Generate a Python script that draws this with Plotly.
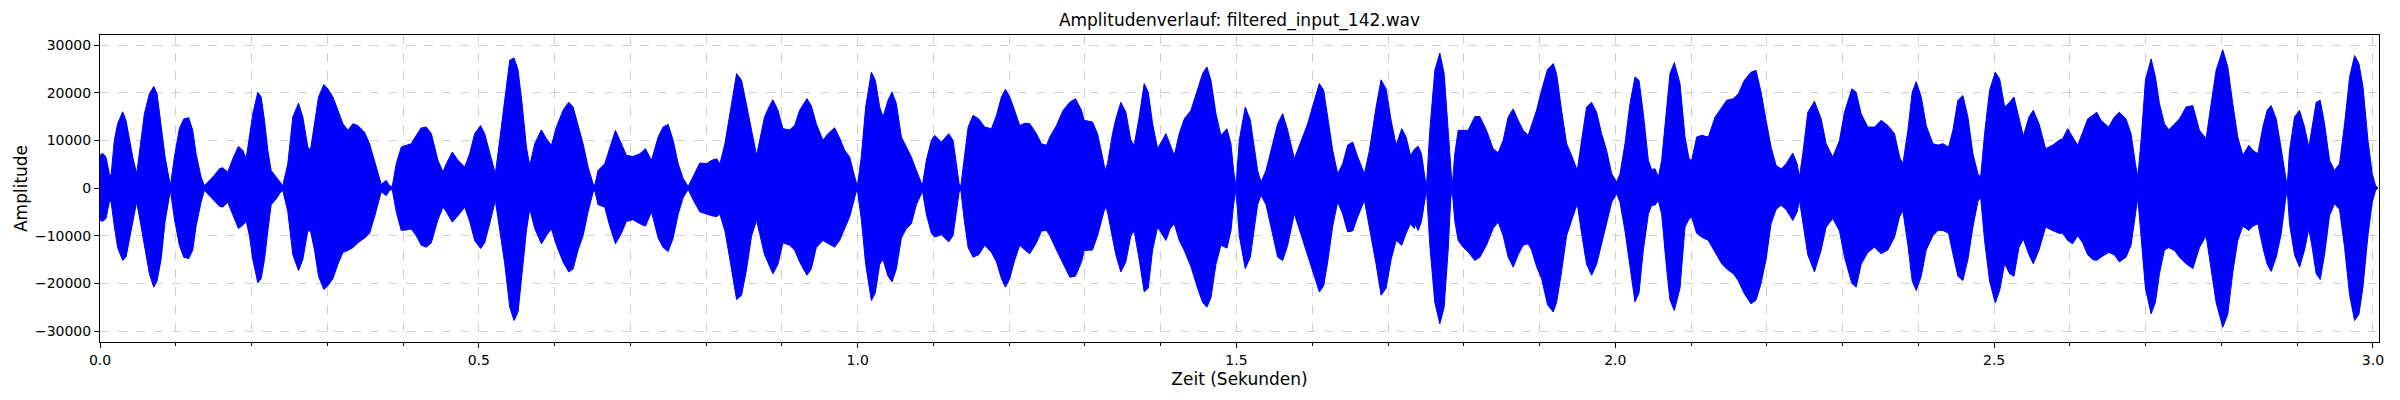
import plotly.graph_objects as go

# Envelope of the waveform
# time in seconds, upper and lower amplitude at that time
time_s = [
    # 0.0 - 0.44 s
    0.0000, 0.0035, 0.0079, 0.0123, 0.0145, 0.0189, 0.0233, 0.0299, 0.0343, 0.0387,
    0.0432, 0.0484, 0.0542, 0.0586, 0.0652, 0.0709, 0.0753, 0.0806, 0.0859, 0.0929,
    0.0982, 0.1048, 0.1105, 0.1171, 0.1224, 0.1268, 0.1334, 0.1378, 0.1444, 0.1510,
    0.1576, 0.1620, 0.1686, 0.1753, 0.1827, 0.1885, 0.1929, 0.1973, 0.2017, 0.2083,
    0.2127, 0.2171, 0.2215, 0.2259, 0.2325, 0.2369, 0.2413, 0.2479, 0.2545, 0.2620,
    0.2677, 0.2743, 0.2778, 0.2831, 0.2884, 0.2955, 0.3008, 0.3074, 0.3140, 0.3206,
    0.3272, 0.3338, 0.3404, 0.3492, 0.3558, 0.3624, 0.3668, 0.3712, 0.3778, 0.3822,
    0.3857, 0.3910, 0.3976, 0.4042, 0.4108, 0.4174, 0.4240, 0.4306, 0.4373,
    # 0.44 - 0.87 s
    0.4395, 0.4460, 0.4527, 0.4571, 0.4650, 0.4725, 0.4813, 0.4879, 0.4945, 0.5024,
    0.5077, 0.5143, 0.5218, 0.5275, 0.5342, 0.5408, 0.5465, 0.5518, 0.5571, 0.5628,
    0.5672, 0.5738, 0.5826, 0.5892, 0.5958, 0.6024, 0.6112, 0.6187, 0.6244, 0.6310,
    0.6376, 0.6442, 0.6508, 0.6530, 0.6574, 0.6662, 0.6728, 0.6803, 0.6882, 0.6948,
    0.7036, 0.7125, 0.7199, 0.7279, 0.7367, 0.7433, 0.7499, 0.7565, 0.7631, 0.7697,
    0.7763, 0.7829, 0.7917, 0.8005, 0.8072, 0.8138, 0.8182, 0.8248, 0.8314, 0.8402,
    0.8468, 0.8534, 0.8600, 0.8666,
    # 0.87 - 1.30 s
    0.8705, 0.8771, 0.8838, 0.8882, 0.8948, 0.9014, 0.9102, 0.9168, 0.9234, 0.9331,
    0.9388, 0.9454, 0.9542, 0.9608, 0.9696, 0.9762, 0.9829, 0.9895, 0.9939, 0.9974,
    0.9996, 1.0048, 1.0106, 1.0181, 1.0233, 1.0291, 1.0335, 1.0401, 1.0454, 1.0511,
    1.0577, 1.0643, 1.0709, 1.0775, 1.0841, 1.0854, 1.0907, 1.0973, 1.1017, 1.1105,
    1.1202, 1.1259, 1.1303, 1.1339, 1.1361, 1.1405, 1.1458, 1.1524, 1.1598, 1.1678,
    1.1766, 1.1832, 1.1898, 1.1951, 1.2008, 1.2065, 1.2140, 1.2206, 1.2272, 1.2360,
    1.2426, 1.2492, 1.2536, 1.2624, 1.2712, 1.2800, 1.2875, 1.2955,
    # 1.30 - 1.74 s
    1.2990, 1.3100, 1.3166, 1.3232, 1.3267, 1.3298, 1.3364, 1.3408, 1.3474, 1.3540,
    1.3606, 1.3650, 1.3716, 1.3782, 1.3835, 1.3893, 1.3959, 1.4069, 1.4126, 1.4179,
    1.4245, 1.4311, 1.4399, 1.4487, 1.4553, 1.4610, 1.4663, 1.4729, 1.4795, 1.4874,
    1.4927, 1.4962, 1.4993, 1.5037, 1.5116, 1.5183, 1.5235, 1.5279, 1.5324, 1.5390,
    1.5478, 1.5544, 1.5610, 1.5676, 1.5764, 1.5852, 1.5940, 1.6028, 1.6094, 1.6151,
    1.6204, 1.6270, 1.6336, 1.6402, 1.6468, 1.6534, 1.6601, 1.6689, 1.6755, 1.6843,
    1.6909, 1.6975, 1.7041, 1.7107, 1.7182, 1.7239, 1.7296, 1.7349,
    # 1.74 - 2.17 s
    1.7354, 1.7398, 1.7442, 1.7486, 1.7508, 1.7552, 1.7618, 1.7684, 1.7741, 1.7794,
    1.7829, 1.7847, 1.7882, 1.7926, 1.7992, 1.8058, 1.8146, 1.8212, 1.8300, 1.8388,
    1.8454, 1.8520, 1.8586, 1.8652, 1.8718, 1.8784, 1.8850, 1.8895, 1.8961, 1.9027,
    1.9106, 1.9181, 1.9225, 1.9291, 1.9357, 1.9423, 1.9498, 1.9555, 1.9621, 1.9687,
    1.9753, 1.9819, 1.9885, 1.9952, 2.0018, 2.0062, 2.0128, 2.0194, 2.0260, 2.0313,
    2.0370, 2.0436, 2.0480, 2.0524, 2.0568, 2.0612, 2.0678, 2.0722, 2.0779, 2.0854,
    2.0920, 2.0973, 2.1008, 2.1074, 2.1140, 2.1228, 2.1317, 2.1405, 2.1471, 2.1559,
    2.1625,
    # 2.17 - 2.59 s
    2.1704, 2.1792, 2.1858, 2.1924, 2.1990, 2.2056, 2.2122, 2.2189, 2.2255, 2.2343,
    2.2400, 2.2431, 2.2475, 2.2541, 2.2629, 2.2717, 2.2783, 2.2871, 2.2959, 2.3025,
    2.3122, 2.3179, 2.3245, 2.3333, 2.3421, 2.3510, 2.3598, 2.3686, 2.3752, 2.3796,
    2.3862, 2.3919, 2.3972, 2.4038, 2.4104, 2.4192, 2.4258, 2.4324, 2.4399, 2.4456,
    2.4522, 2.4588, 2.4654, 2.4720, 2.4786, 2.4822, 2.4874, 2.4940, 2.5015, 2.5073,
    2.5139, 2.5205, 2.5262, 2.5328, 2.5385, 2.5460, 2.5517, 2.5592, 2.5680, 2.5768,
    2.5856,
    # 2.59 - 3.01 s
    2.5905, 2.5971, 2.6037, 2.6103, 2.6169, 2.6235, 2.6301, 2.6354, 2.6411, 2.6512,
    2.6587, 2.6653, 2.6741, 2.6807, 2.6865, 2.6896, 2.6940, 2.6997, 2.7072, 2.7129,
    2.7182, 2.7248, 2.7305, 2.7380, 2.7446, 2.7534, 2.7622, 2.7710, 2.7798, 2.7864,
    2.7930, 2.8018, 2.8084, 2.8150, 2.8216, 2.8283, 2.8362, 2.8415, 2.8481, 2.8547,
    2.8604, 2.8657, 2.8723, 2.8789, 2.8846, 2.8868, 2.8899, 2.8965, 2.9031, 2.9097,
    2.9154, 2.9198, 2.9251, 2.9304, 2.9361, 2.9427, 2.9493, 2.9559, 2.9626, 2.9692,
    2.9758, 2.9815, 2.9868, 2.9934, 2.9991, 3.0035, 3.0066,
]

upper = [
    6850, 7300, 6500, 3000, 2500, 10000, 13500, 16000, 14200, 10000,
    6500, 3000, 10700, 15600, 19800, 21300, 19800, 13500, 6500, 500,
    6500, 12500, 14500, 14750, 12100, 7200, 2300, 500, 1600, 2700,
    4050, 4270, 3350, 6150, 8750, 7900, 6150, 10700, 15600, 20100,
    19100, 14200, 7900, 3700, 2300, 1250, 500, 5100, 14900, 17800,
    14900, 8600, 8000, 13500, 19100, 21700, 20800, 19100, 16300, 13500,
    12100, 13500, 13100, 11700, 9300, 5800, 3000, 770, 1600, 500,
    300, 5100, 8600, 9000, 9300, 11050, 12600, 12800, 11400,

    10000, 5800, 3400, 5100, 7550, 5800, 4400, 7200, 11400, 13100,
    11400, 7200, 3000, 10000, 19100, 26800, 27300, 24700, 17700, 8600,
    4750, 9300, 12200, 10350, 8950, 12800, 16300, 18000, 17000, 13100,
    9300, 4400, 900, 560, 3700, 5100, 8600, 12100, 9300, 6850,
    6600, 7200, 8250, 5800, 10700, 12800, 13350, 10000, 5100, 2000,
    300, 2300, 5250, 5100, 5800, 6150, 5100, 9300, 15600, 24000,
    22600, 17700, 12100, 6850,

    10000, 14900, 17300, 18500, 16300, 12450, 12200, 13100, 16300, 18750,
    17300, 13500, 10000, 11400, 12650, 10500, 7900, 6500, 3700, 1250,
    300, 6500, 17000, 24300, 22600, 17000, 14900, 18400, 20150, 17700,
    10700, 8600, 6500, 3700, 1250, 500, 5800, 10000, 11050, 9650,
    11400, 10000, 5100, 900, 300, 6500, 12800, 15250, 14500, 12800,
    12450, 15250, 19100, 20700, 19100, 16600, 13100, 13600, 13500, 11400,
    9300, 8950, 10700, 13100, 16300, 18000, 18750, 16300,

    14200, 13850, 11400, 6500, 3700, 5100, 11400, 14500, 18000, 15900,
    10000, 9000, 14900, 21900, 20150, 13500, 8250, 11400, 9000, 6850,
    11400, 14500, 16300, 20800, 24000, 25400, 22600, 15600, 11050, 12450,
    9300, 3700, 300, 10000, 17000, 14200, 8600, 3700, 1250, 3700,
    9300, 13500, 15600, 12100, 6150, 10000, 13500, 18400, 21900, 20500,
    14900, 7900, 3000, 5100, 9000, 9650, 6500, 3000, 7900, 17000,
    22700, 20800, 14200, 9000, 12450, 10700, 6850, 8250,

    8250, 8750, 7200, 2300, 300, 12100, 24700, 28300, 24000, 12100,
    3700, 300, 7200, 12100, 12100, 12100, 15000, 15000, 12100, 8250,
    7400, 10000, 14900, 16600, 14200, 12100, 11050, 13100, 16300, 20500,
    24900, 26100, 24000, 16300, 9300, 6850, 3700, 10000, 17000, 18000,
    15900, 11400, 7900, 3000, 1250, 3000, 9300, 17700, 23300, 22600,
    15600, 5800, 3850, 4050, 2300, 5800, 17700, 24000, 26300, 21900,
    10700, 6150, 5800, 10700, 11050, 10700, 14900, 17000, 18400, 18750,
    19800,

    22600, 24300, 24700, 20100, 14200, 8600, 4750, 4050, 5100, 7350,
    5100, 2300, 7200, 15900, 18200, 14500, 9300, 6500, 10000, 15900,
    20800, 20100, 15600, 12800, 12800, 14200, 13100, 11400, 6500, 5100,
    12100, 20100, 22300, 19100, 13100, 9300, 9000, 9300, 8600, 12100,
    18400, 19400, 14900, 7200, 3000, 2300, 11400, 20500, 24300, 22900,
    17000, 18000, 19100, 14900, 10900, 14900, 16300, 13500, 8250, 8950,
    10000,

    10350, 12450, 10700, 8950, 11700, 14500, 15250, 15900, 14200, 12800,
    14900, 15900, 14500, 11400, 5100, 2300, 10000, 22600, 27100, 23300,
    17700, 13500, 12200, 13500, 14500, 17000, 17300, 12100, 10350, 17700,
    24700, 29000, 25400, 17700, 10700, 6850, 8950, 7900, 7200, 12800,
    16300, 17300, 14500, 8250, 2300, 300, 7900, 14900, 16300, 12800,
    8600, 12800, 18000, 18400, 13500, 5800, 3700, 5100, 13500, 23300,
    27800, 26100, 21300, 10000, 3000, 500, 0,
]

lower = [
    -6800, -7000, -6400, -2900, -2800, -8000, -12500, -15200, -14500, -11000,
    -7500, -2900, -8000, -12500, -18000, -20800, -19500, -15000, -7000, -500,
    -6500, -12000, -14500, -14800, -13000, -8000, -3000, -500, -1500, -2700,
    -3800, -4000, -3000, -5500, -8500, -7800, -7000, -10000, -15000, -19900,
    -19000, -15000, -9000, -3500, -2300, -1200, -500, -5000, -14000, -17300,
    -15000, -9000, -9000, -13000, -18500, -21300, -20500, -19000, -16000, -13500,
    -13100, -12500, -11500, -10500, -9500, -6000, -3500, -800, -1600, -500,
    -300, -5000, -8900, -8800, -8600, -10000, -12000, -12400, -11500,

    -10000, -6650, -4000, -5000, -7150, -5800, -4000, -7000, -11000, -12700,
    -11500, -7500, -2600, -9000, -15900, -25000, -27800, -26000, -18000, -9000,
    -4350, -8500, -11700, -10000, -8550, -12000, -15500, -17600, -17000, -13000,
    -10000, -5000, -900, -500, -3500, -4000, -8000, -11700, -9500, -7000,
    -6650, -7500, -8000, -5000, -10500, -12500, -13300, -10500, -5500, -2000,
    -300, -2500, -5000, -5500, -5800, -6000, -5500, -9000, -15000, -23400,
    -22500, -17000, -10000, -6800,

    -9500, -14000, -16500, -18000, -16000, -11500, -12000, -13000, -15500, -18300,
    -17000, -12500, -11000, -11500, -12400, -11000, -8500, -6000, -3400, -1200,
    -300, -6500, -16000, -23600, -22000, -16000, -15000, -18500, -19700, -17000,
    -10500, -8500, -7500, -3500, -1200, -500, -5500, -9500, -10300, -9800,
    -11300, -10000, -5000, -900, -300, -6500, -12500, -14500, -14000, -12000,
    -13500, -15500, -19000, -20800, -19000, -15500, -12000, -13000, -13800, -11500,
    -9000, -8900, -10000, -13000, -16000, -18700, -18500, -15500,

    -13100, -13000, -10000, -6000, -4000, -5000, -10500, -14000, -17600, -15500,
    -10000, -9000, -15000, -21800, -21000, -13000, -8200, -11000, -8500, -7500,
    -11000, -13100, -16500, -21000, -24000, -25000, -23000, -16000, -12000, -12600,
    -9000, -3500, -300, -10000, -16900, -14500, -8500, -3500, -1500, -3500,
    -9500, -14500, -15200, -12000, -5400, -10000, -14000, -18500, -21800, -20500,
    -15500, -8000, -2900, -5500, -9200, -9000, -6000, -2600, -8000, -16000,
    -22500, -21000, -15000, -11000, -12000, -9500, -7500, -8500,

    -7500, -8900, -7000, -2600, -300, -12000, -24000, -28500, -25000, -13000,
    -2000, -300, -7000, -11000, -12400, -13400, -15200, -14500, -12000, -8500,
    -7150, -10000, -14500, -16600, -14000, -12000, -11700, -13000, -16500, -19000,
    -24500, -26000, -24000, -17500, -10000, -6800, -3300, -9500, -16000, -18300,
    -16000, -11700, -7500, -3000, -1200, -3000, -9000, -16500, -23900, -22000,
    -13000, -5500, -3600, -3600, -2600, -5500, -17000, -23500, -25700, -21000,
    -8200, -6500, -6100, -9500, -10300, -11000, -13500, -15900, -17000, -18000,
    -19500,

    -22200, -24300, -23500, -20000, -15000, -7500, -4500, -3600, -4500, -6800,
    -5000, -2600, -7000, -14000, -17600, -13000, -8200, -6400, -9000, -14500,
    -20000, -20800, -16000, -13500, -12400, -13800, -13000, -10300, -6000, -4800,
    -12000, -19500, -21500, -18500, -13000, -10000, -8900, -8900, -9500, -13800,
    -18500, -19400, -15000, -8200, -2800, -1900, -11000, -19500, -24100, -21500,
    -15900, -18000, -18500, -12500, -10700, -14000, -15900, -13000, -8200, -8900,
    -9500,

    -9500, -11000, -11700, -10000, -11500, -14000, -15000, -15200, -14500, -13500,
    -14000, -15500, -14500, -12000, -5500, -2000, -10000, -21000, -26400, -24000,
    -18000, -13000, -12500, -13100, -14500, -15900, -16900, -12500, -10000, -17000,
    -24000, -29200, -26500, -17700, -11000, -8000, -8900, -8000, -7500, -12500,
    -16000, -17500, -14500, -9600, -2500, -300, -7500, -14000, -16600, -13000,
    -8600, -12500, -18000, -19200, -14000, -5800, -3300, -4500, -12500, -22500,
    -27800, -26500, -20800, -10000, -3000, -500, 0,
]

assert len(time_s) == len(upper) == len(lower)

x_ticks = [0.0, 0.5, 1.0, 1.5, 2.0, 2.5, 3.0]
y_ticks = [-30000, -20000, -10000, 0, 10000, 20000, 30000]
y_tick_text = [str(v).replace("-", "\u2212") for v in y_ticks]

font = "DejaVu Sans"
grid_color = "#cfcfcf"
wave_color = "#0000ff"

fig = go.Figure()

# waveform drawn as the filled band between upper and lower envelope
fig.add_trace(
    go.Scatter(
        x=time_s + time_s[::-1],
        y=upper + lower[::-1],
        mode="lines",
        fill="toself",
        fillcolor=wave_color,
        line=dict(color=wave_color, width=1),
        hoverinfo="skip",
        showlegend=False,
    )
)

axis_style = dict(
    ticks="outside",
    ticklen=5,
    tickwidth=1,
    tickcolor="black",
    showline=True,
    linecolor="black",
    linewidth=1,
    mirror=True,
    showgrid=True,
    gridcolor=grid_color,
    griddash="dash",
    gridwidth=1,
    zeroline=False,
)

fig.update_layout(
    width=2400,
    height=400,
    margin=dict(l=100, r=21, t=35, b=58, autoexpand=False),
    plot_bgcolor="white",
    paper_bgcolor="white",
    font=dict(family=font, size=14, color="black"),
    title=dict(
        text="Amplitudenverlauf: filtered_input_142.wav",
        x=0.5,
        xref="paper",
        xanchor="center",
        y=0.95,
        yref="container",
        yanchor="middle",
        font=dict(family=font, size=17, color="black"),
    ),
    xaxis=dict(
        range=[0, 3.008],
        tickvals=x_ticks,
        ticktext=[f"{v:.1f}" for v in x_ticks],
        minor=dict(
            dtick=0.1,
            tick0=0,
            ticks="outside",
            ticklen=3,
            tickcolor="black",
            showgrid=True,
            gridcolor=grid_color,
            griddash="dash",
        ),
        title=dict(text="Zeit (Sekunden)", standoff=6),
        **axis_style,
    ),
    yaxis=dict(
        range=[-32300, 32100],
        tickvals=y_ticks,
        ticktext=y_tick_text,
        title=dict(text="Amplitude", standoff=2),
        **axis_style,
    ),
)

fig.write_html(
    "out.html",
    config={"displayModeBar": False},
    post_script="document.body.style.margin='0';document.body.style.overflow='hidden';",
)
